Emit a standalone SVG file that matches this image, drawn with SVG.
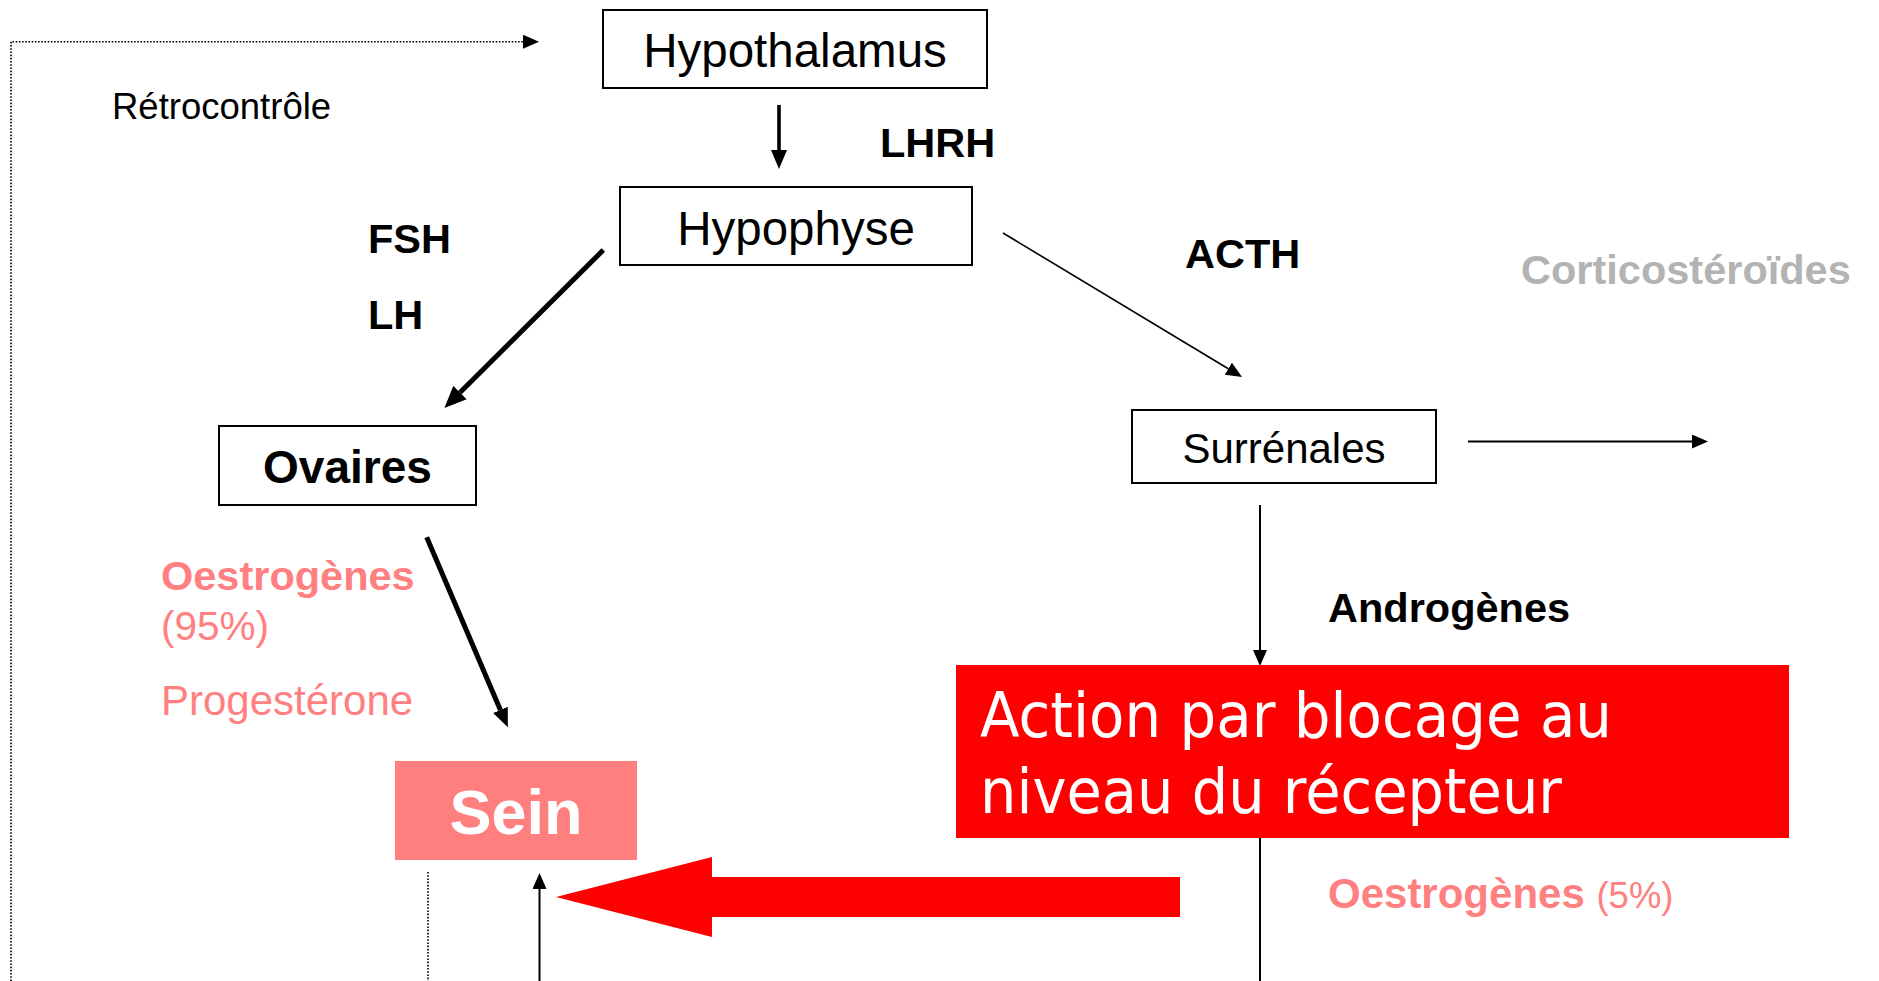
<svg xmlns="http://www.w3.org/2000/svg" width="1879" height="981" viewBox="0 0 1879 981">
<style>
text{font-family:"Liberation Sans",Arial,sans-serif;fill:#000}
.box{fill:#fff;stroke:#000;stroke-width:2}
.node{font-size:47.5px}
.b{font-weight:bold}
.lbl{font-size:41.5px;font-weight:bold}
.pink{fill:#ff8080}
.gray{fill:#b3b3b3}
.ln{fill:none;stroke:#000}
.dot{fill:none;stroke:#000;stroke-width:1.6;stroke-dasharray:1.6 1.6}
.act{font-family:"Comic Sans MS","DejaVu Sans",sans-serif;font-size:62px;fill:#fff}
</style>
<defs>
<marker id="ahS" viewBox="0 0 16 14" refX="0" refY="7" markerWidth="16" markerHeight="14" markerUnits="userSpaceOnUse" orient="auto"><path d="M0,0 L16,7 L0,14 z" fill="#000"/></marker>
<marker id="ahM" viewBox="0 0 19 16" refX="0" refY="8" markerWidth="19" markerHeight="16" markerUnits="userSpaceOnUse" orient="auto"><path d="M0,0 L19,8 L0,16 z" fill="#000"/></marker>
<marker id="ahL" viewBox="0 0 22 19" refX="0" refY="9.5" markerWidth="22" markerHeight="19" markerUnits="userSpaceOnUse" orient="auto"><path d="M0,0 L22,9.5 L0,19 z" fill="#000"/></marker>
</defs>

<g id="connectors">
<path class="dot" d="M11,981 V41.7 H523" marker-end="url(#ahS)"/>
<path class="dot" d="M428,872 V981"/>
<line class="ln" x1="779" y1="105" x2="779" y2="150" stroke-width="3.6" marker-end="url(#ahM)"/>
<line class="ln" x1="603.3" y1="250" x2="460" y2="392.6" stroke-width="5" marker-end="url(#ahL)"/>
<line class="ln" x1="1003" y1="233" x2="1228.3" y2="368.7" stroke-width="1.6" marker-end="url(#ahS)"/>
<line class="ln" x1="426.7" y1="537.3" x2="500.4" y2="709.9" stroke-width="5" marker-end="url(#ahM)"/>
<line class="ln" x1="1260" y1="505" x2="1260" y2="650" stroke-width="2" marker-end="url(#ahS)"/>
<line class="ln" x1="1260" y1="838" x2="1260" y2="981" stroke-width="2"/>
<line class="ln" x1="1468" y1="441.5" x2="1692" y2="441.5" stroke-width="2" marker-end="url(#ahS)"/>
<line class="ln" x1="539.5" y1="981" x2="539.5" y2="889" stroke-width="2" marker-end="url(#ahS)"/>
<polygon points="556,897 712,857 712,877 1180,877 1180,917 712,917 712,937" fill="#ff0000"/>
</g>

<g id="hypothalamus">
<rect class="box" x="603" y="10" width="384" height="78"/>
<text class="node" x="795" y="67" text-anchor="middle">Hypothalamus</text>
</g>

<g id="hypophyse">
<rect class="box" x="620" y="187" width="352" height="78"/>
<text class="node" x="796" y="245" text-anchor="middle">Hypophyse</text>
</g>

<g id="ovaires">
<rect class="box" x="219" y="426" width="257" height="79"/>
<text class="b" x="347.5" y="483" font-size="46" text-anchor="middle">Ovaires</text>
</g>

<g id="surrenales">
<rect class="box" x="1132" y="410" width="304" height="73"/>
<text x="1284" y="463" font-size="42" text-anchor="middle">Surrénales</text>
</g>

<g id="sein">
<rect x="395" y="761" width="242" height="99" fill="#ff7f7f"/>
<text class="b" x="516" y="834" font-size="63" text-anchor="middle" style="fill:#fff">Sein</text>
</g>

<g id="action">
<rect x="956" y="665" width="833" height="173" fill="#ff0000"/>
<text class="act" x="980" y="737" textLength="632" lengthAdjust="spacingAndGlyphs">Action par blocage au</text>
<text class="act" x="980" y="813" textLength="582" lengthAdjust="spacingAndGlyphs">niveau du récepteur</text>
</g>

<g id="labels">
<text x="112" y="119" font-size="36.5">Rétrocontrôle</text>
<text class="lbl" x="880" y="157">LHRH</text>
<text class="lbl" x="368" y="253">FSH</text>
<text class="lbl" x="368" y="329">LH</text>
<text class="lbl" x="1185" y="268">ACTH</text>
<text class="lbl gray" x="1521" y="284" font-size="42.3">Corticostéroïdes</text>
<text class="lbl" x="1328" y="622" font-size="42">Androgènes</text>
<text class="lbl pink" x="161" y="590" font-size="42">Oestrogènes</text>
<text class="pink" x="161" y="640" font-size="40.5">(95%)</text>
<text class="pink" x="161" y="715" font-size="42">Progestérone</text>
<text class="pink" x="1328" y="908" font-size="42"><tspan font-weight="bold">Oestrogènes</tspan> <tspan font-size="36.5">(5%)</tspan></text>
</g>
</svg>
